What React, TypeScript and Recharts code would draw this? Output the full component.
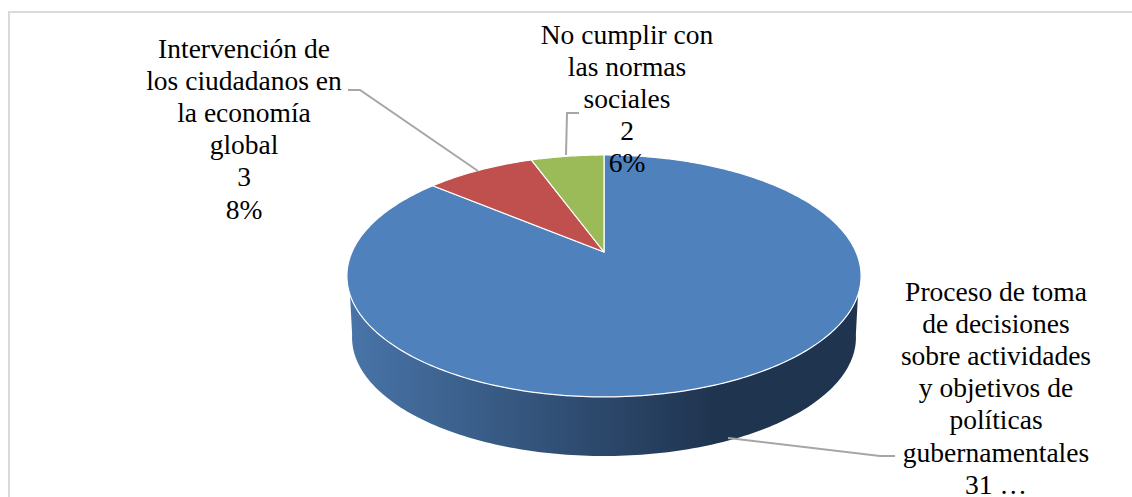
import { PieChart, Pie, Cell } from "recharts";

const categories = [
  "Proceso de toma de decisiones sobre actividades y objetivos de políticas gubernamentales",
  "Intervención de los ciudadanos en la economía global",
  "No cumplir con las normas sociales",
];
const values = [31, 3, 2];
const COLORS = ["#4f81bd", "#c0504d", "#9bbb59"];

const labelLines = [
  ["Proceso de toma", "de decisiones", "sobre actividades", "y objetivos de", "políticas", "gubernamentales", "31 …"],
  ["Intervención de", "los ciudadanos en", "la economía", "global", "3", "8%"],
  ["No cumplir con", "las normas", "sociales", "2", "6%"],
];

// label anchor (centre x, first baseline) and leader polyline for each slice
const labelX = [996, 244, 627];
const labelY = [301, 58, 44];
const leaders = [
  "728,438 880,456 895,456",
  "348,90 360,90 478,171",
  "579,113 567,113 566,155",
];

const chartData = categories.map((name, i) => ({ name, value: values[i] }));

const PERSPECTIVE = -0.198;
const TILT = 116.2;
const RIM_SCALE = 0.98;
const RIM_DEPTH = 62;
const RAD = Math.PI / 180;

// circle angle -> point on the tilted pie top
function project(cx: number, cy: number, r: number, angle: number) {
  const u = Math.cos(angle * RAD);
  const v = -Math.sin(angle * RAD);
  const w = 1 + PERSPECTIVE * v;
  return { x: cx + (r * u) / w, y: cy + (TILT * (r / 252) * v) / w, v };
}

function Slice3D(props: any) {
  const { cx, cy, outerRadius, startAngle, endAngle, fill } = props;
  const top: { x: number; y: number; v: number }[] = [];
  const steps = Math.max(8, Math.ceil(Math.abs(endAngle - startAngle)));
  for (let i = 0; i <= steps; i++) {
    top.push(project(cx, cy, outerRadius, startAngle + ((endAngle - startAngle) * i) / steps));
  }
  // the side wall only shows on the front of the pie
  const rim =
    props.index === 0
      ? top
          .filter((p) => p.v > 0.33)
          .map((p) => `${p.x},${p.y}`)
          .concat(
            top
              .filter((p) => p.v > 0.165)
              .reverse()
              .map((p) => `${cx + (p.x - cx) * RIM_SCALE},${cy + (p.y - cy) * RIM_SCALE + RIM_DEPTH}`)
          )
          .join(" ")
      : null;
  const d = `M${cx},${cy} ` + top.map((p) => `L${p.x},${p.y}`).join(" ") + " Z";
  return (
    <g>
      {rim && <polygon points={rim} fill="url(#rimFill)" />}
      <path d={d} fill={fill} stroke="#ffffff" strokeWidth={1.2} strokeLinejoin="round" />
    </g>
  );
}

function SliceLabel(props: any) {
  const i = props.index;
  return (
    <text
      x={labelX[i]}
      y={labelY[i]}
      textAnchor="middle"
      fontFamily="'Liberation Serif', serif"
      fontSize={27.5}
      fill="#000000"
    >
      {labelLines[i].map((line, n) => (
        <tspan key={n} x={labelX[i]} y={labelY[i] + n * 32.1}>
          {line}
        </tspan>
      ))}
    </text>
  );
}

function LeaderLine(props: any) {
  return <polyline points={leaders[props.index]} fill="none" stroke="#a6a6a6" strokeWidth={2} />;
}

export default function App() {
  return (
    <div style={{ position: "absolute", left: 0, top: 0, width: 1132, height: 497, overflow: "hidden", background: "#ffffff" }}>
      <div
        style={{
          position: "absolute",
          left: 8,
          top: 11,
          width: 1140,
          height: 520,
          border: "2px solid #d9d9d9",
        }}
      />
      <div style={{ position: "absolute", left: 0, top: 0 }}>
        <PieChart width={1132} height={497} margin={{ top: 0, right: 0, bottom: 0, left: 0 }}>
          <defs>
            <linearGradient id="rimFill" x1="0" y1="0" x2="1" y2="0">
              <stop offset="0" stopColor="#4874a8" />
              <stop offset="0.72" stopColor="#1f344f" />
              <stop offset="1" stopColor="#1f344f" />
            </linearGradient>
          </defs>
          <Pie
            data={chartData}
            dataKey="value"
            nameKey="name"
            cx={604}
            cy={252}
            outerRadius={252}
            startAngle={90}
            endAngle={-270}
            isAnimationActive={false}
            shape={Slice3D}
            label={SliceLabel}
            labelLine={LeaderLine}
          >
            {chartData.map((entry, index) => (
              <Cell key={`cell-${index}`} fill={COLORS[index % COLORS.length]} />
            ))}
          </Pie>
        </PieChart>
      </div>
    </div>
  );
}
